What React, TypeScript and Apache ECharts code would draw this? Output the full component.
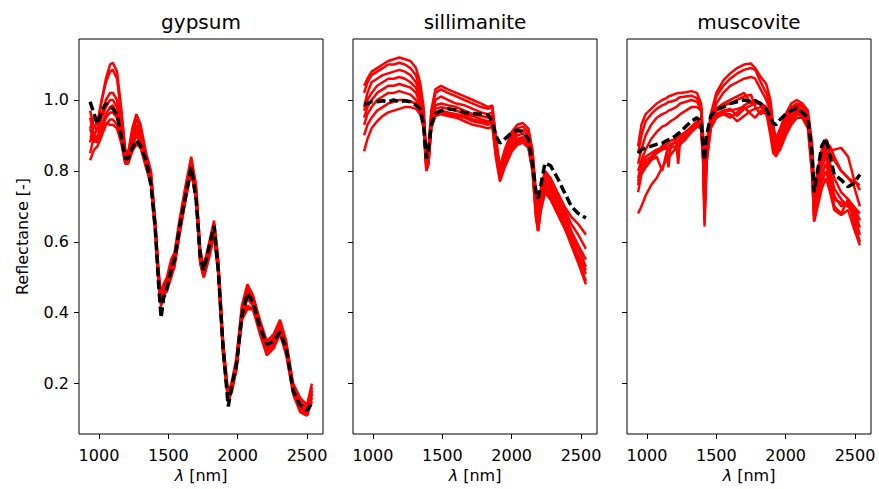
import React, { useEffect, useRef } from "react";
import * as echarts from "echarts";

// ---------- shared axis values ----------
const xTicks = [1000, 1500, 2000, 2500];
const yTicks = [0.2, 0.4, 0.6, 0.8, 1.0];
const xRange = [856, 2615];
const yRange = [0.058, 1.172];
const panelTitles = ["gypsum", "sillimanite", "muscovite"];

// ---------- gypsum ----------
const wlGypsum = [936, 965, 990, 1020, 1050, 1080, 1100, 1130, 1160, 1190,
  1210, 1240, 1270, 1300, 1340, 1375, 1405, 1430, 1448, 1465,
  1490, 1520, 1545, 1580, 1620, 1665, 1700, 1730, 1755, 1790,
  1830, 1860, 1895, 1932, 1960, 1990, 2030, 2070, 2110, 2160,
  2210, 2260, 2305, 2350, 2400, 2450, 2500, 2535];
const gypsumRef = [0.995, 0.96, 0.932, 0.97, 0.99, 0.98, 0.975, 0.96, 0.90, 0.835,
  0.835, 0.865, 0.887, 0.87, 0.83, 0.76, 0.64, 0.48, 0.386, 0.44,
  0.47, 0.52, 0.55, 0.64, 0.72, 0.81, 0.72, 0.56, 0.52, 0.58,
  0.645, 0.52, 0.30, 0.136, 0.20, 0.25, 0.39, 0.455, 0.43, 0.36,
  0.31, 0.32, 0.345, 0.30, 0.18, 0.14, 0.125, 0.145];
const gypsum1 = [0.92, 0.95, 0.93, 1.00, 1.06, 1.10, 1.105, 1.08, 0.98, 0.86,
  0.85, 0.92, 0.96, 0.93, 0.85, 0.80, 0.66, 0.52, 0.45, 0.48,
  0.50, 0.55, 0.57, 0.66, 0.75, 0.84, 0.76, 0.58, 0.53, 0.59,
  0.66, 0.55, 0.32, 0.17, 0.21, 0.27, 0.42, 0.48, 0.45, 0.38,
  0.32, 0.34, 0.38, 0.32, 0.20, 0.16, 0.14, 0.20];
const gypsum2 = [0.97, 0.92, 0.94, 1.0, 1.05, 1.08, 1.085, 1.06, 0.96, 0.85,
  0.845, 0.91, 0.945, 0.92, 0.84, 0.79, 0.66, 0.50, 0.44, 0.47,
  0.49, 0.53, 0.56, 0.65, 0.74, 0.83, 0.75, 0.57, 0.52, 0.58,
  0.65, 0.54, 0.31, 0.16, 0.20, 0.26, 0.41, 0.47, 0.44, 0.37,
  0.31, 0.33, 0.37, 0.31, 0.19, 0.15, 0.13, 0.18];
const gypsum3 = [0.88, 0.93, 0.91, 0.96, 1.0, 1.02, 1.02, 1.0, 0.93, 0.84,
  0.84, 0.89, 0.93, 0.91, 0.83, 0.78, 0.65, 0.50, 0.43, 0.46,
  0.48, 0.52, 0.55, 0.64, 0.73, 0.82, 0.74, 0.56, 0.51, 0.57,
  0.64, 0.53, 0.30, 0.16, 0.20, 0.25, 0.40, 0.46, 0.44, 0.36,
  0.30, 0.33, 0.36, 0.30, 0.19, 0.14, 0.12, 0.16];
const gypsum4 = [0.95, 0.90, 0.92, 0.95, 0.98, 1.0, 1.0, 0.98, 0.92, 0.84,
  0.835, 0.88, 0.92, 0.90, 0.83, 0.78, 0.65, 0.49, 0.42, 0.46,
  0.48, 0.52, 0.55, 0.63, 0.72, 0.82, 0.73, 0.55, 0.50, 0.56,
  0.63, 0.52, 0.30, 0.15, 0.19, 0.25, 0.40, 0.46, 0.43, 0.36,
  0.30, 0.32, 0.35, 0.30, 0.18, 0.14, 0.12, 0.17];
const gypsum5 = [0.85, 0.90, 0.89, 0.93, 0.96, 0.98, 0.985, 0.96, 0.91, 0.83,
  0.83, 0.87, 0.91, 0.89, 0.82, 0.77, 0.64, 0.49, 0.43, 0.45,
  0.47, 0.51, 0.54, 0.63, 0.72, 0.81, 0.73, 0.55, 0.51, 0.56,
  0.63, 0.52, 0.29, 0.15, 0.19, 0.24, 0.39, 0.45, 0.43, 0.35,
  0.29, 0.31, 0.35, 0.29, 0.18, 0.13, 0.11, 0.15];
const gypsum6 = [0.92, 0.88, 0.90, 0.92, 0.95, 0.965, 0.965, 0.95, 0.90, 0.83,
  0.83, 0.87, 0.90, 0.88, 0.82, 0.77, 0.64, 0.50, 0.44, 0.47,
  0.47, 0.50, 0.54, 0.62, 0.71, 0.80, 0.72, 0.54, 0.50, 0.55,
  0.62, 0.51, 0.29, 0.16, 0.19, 0.24, 0.38, 0.42, 0.41, 0.35,
  0.29, 0.31, 0.34, 0.29, 0.18, 0.13, 0.12, 0.17];
const gypsum7 = [0.83, 0.86, 0.87, 0.90, 0.93, 0.945, 0.945, 0.93, 0.89, 0.82,
  0.825, 0.86, 0.88, 0.87, 0.81, 0.76, 0.63, 0.48, 0.42, 0.45,
  0.46, 0.50, 0.53, 0.62, 0.71, 0.80, 0.72, 0.54, 0.50, 0.55,
  0.62, 0.51, 0.28, 0.15, 0.18, 0.24, 0.38, 0.41, 0.41, 0.34,
  0.28, 0.30, 0.34, 0.28, 0.17, 0.12, 0.11, 0.19];
const gypsum8 = [0.90, 0.89, 0.88, 0.91, 0.935, 0.93, 0.93, 0.92, 0.88, 0.82,
  0.82, 0.855, 0.875, 0.865, 0.81, 0.77, 0.64, 0.49, 0.43, 0.46,
  0.47, 0.51, 0.54, 0.63, 0.72, 0.81, 0.73, 0.55, 0.51, 0.56,
  0.63, 0.52, 0.29, 0.16, 0.19, 0.25, 0.39, 0.44, 0.42, 0.35,
  0.29, 0.31, 0.35, 0.29, 0.18, 0.13, 0.12, 0.18];

// ---------- sillimanite ----------
const wlSillimanite = [936, 960, 990, 1030, 1070, 1110, 1150, 1190, 1230, 1270,
  1310, 1340, 1365, 1385, 1400, 1420, 1450, 1490, 1540, 1600,
  1660, 1720, 1780, 1830, 1860, 1885, 1915, 1950, 2000, 2040,
  2080, 2120, 2150, 2175, 2190, 2210, 2240, 2280, 2330, 2380,
  2430, 2480, 2535];
const sillimaniteRef = [0.988, 0.99, 0.995, 0.995, 0.998, 0.995, 1.0, 0.995, 0.998, 0.995,
  0.985, 0.975, 0.93, 0.835, 0.86, 0.93, 0.962, 0.97, 0.975, 0.972,
  0.965, 0.962, 0.96, 0.958, 0.94, 0.90, 0.878, 0.89, 0.908, 0.915,
  0.91, 0.89, 0.82, 0.74, 0.722, 0.76, 0.822, 0.815, 0.78, 0.74,
  0.70, 0.68, 0.667];
const sillimanite1 = [1.04, 1.06, 1.08, 1.09, 1.10, 1.11, 1.115, 1.12, 1.115, 1.11,
  1.09, 1.05, 0.98, 0.84, 0.86, 0.97, 1.03, 1.04, 1.03, 1.02,
  1.01, 1.0, 0.99, 0.98, 0.985, 0.90, 0.81, 0.86, 0.91, 0.93,
  0.935, 0.92, 0.86, 0.74, 0.70, 0.75, 0.80, 0.78, 0.74, 0.70,
  0.67, 0.65, 0.62];
const sillimanite2 = [1.02, 1.05, 1.07, 1.08, 1.09, 1.10, 1.10, 1.105, 1.10, 1.09,
  1.07, 1.03, 0.97, 0.83, 0.85, 0.96, 1.02, 1.03, 1.02, 1.01,
  1.0, 0.99, 0.98, 0.975, 0.98, 0.89, 0.80, 0.85, 0.90, 0.92,
  0.925, 0.91, 0.85, 0.72, 0.68, 0.74, 0.79, 0.77, 0.73, 0.69,
  0.65, 0.62, 0.58];
const sillimanite3 = [0.98, 1.02, 1.05, 1.06, 1.07, 1.075, 1.08, 1.085, 1.08, 1.07,
  1.05, 1.02, 0.96, 0.82, 0.84, 0.95, 1.0, 1.01, 1.0, 0.99,
  0.985, 0.975, 0.965, 0.96, 0.965, 0.88, 0.80, 0.84, 0.89, 0.91,
  0.915, 0.90, 0.84, 0.71, 0.67, 0.73, 0.78, 0.76, 0.72, 0.68,
  0.63, 0.59, 0.55];
const sillimanite4 = [0.97, 1.0, 1.02, 1.04, 1.05, 1.06, 1.06, 1.065, 1.06, 1.05,
  1.035, 1.0, 0.95, 0.82, 0.83, 0.94, 0.985, 0.99, 0.985, 0.98,
  0.97, 0.96, 0.955, 0.95, 0.955, 0.87, 0.79, 0.83, 0.88, 0.90,
  0.905, 0.89, 0.83, 0.70, 0.66, 0.72, 0.77, 0.75, 0.71, 0.67,
  0.62, 0.58, 0.53];
const sillimanite5 = [0.95, 0.98, 1.0, 1.02, 1.03, 1.04, 1.04, 1.045, 1.04, 1.035,
  1.02, 0.99, 0.94, 0.81, 0.83, 0.93, 0.975, 0.98, 0.975, 0.97,
  0.96, 0.955, 0.945, 0.94, 0.945, 0.86, 0.79, 0.82, 0.87, 0.89,
  0.895, 0.88, 0.82, 0.69, 0.65, 0.71, 0.76, 0.74, 0.70, 0.66,
  0.61, 0.56, 0.51];
const sillimanite6 = [0.93, 0.96, 0.98, 1.0, 1.01, 1.02, 1.02, 1.025, 1.02, 1.015,
  1.0, 0.98, 0.93, 0.80, 0.82, 0.92, 0.965, 0.97, 0.965, 0.96,
  0.955, 0.945, 0.94, 0.935, 0.94, 0.85, 0.78, 0.82, 0.865, 0.885,
  0.89, 0.875, 0.81, 0.68, 0.64, 0.70, 0.75, 0.73, 0.69, 0.65,
  0.60, 0.55, 0.49];
const sillimanite7 = [0.90, 0.93, 0.95, 0.97, 0.98, 0.99, 0.995, 1.0, 1.0, 0.995,
  0.99, 0.97, 0.93, 0.81, 0.83, 0.925, 0.96, 0.965, 0.96, 0.955,
  0.95, 0.94, 0.935, 0.93, 0.935, 0.85, 0.78, 0.815, 0.86, 0.88,
  0.885, 0.87, 0.80, 0.67, 0.63, 0.69, 0.74, 0.72, 0.68, 0.64,
  0.59, 0.54, 0.48];
const sillimanite8 = [0.855, 0.89, 0.92, 0.94, 0.955, 0.965, 0.97, 0.975, 0.98, 0.98,
  0.975, 0.96, 0.92, 0.80, 0.82, 0.92, 0.955, 0.96, 0.955, 0.95,
  0.94, 0.93, 0.925, 0.92, 0.925, 0.84, 0.77, 0.81, 0.855, 0.873,
  0.88, 0.865, 0.80, 0.67, 0.63, 0.69, 0.74, 0.72, 0.68, 0.64,
  0.60, 0.56, 0.52];

// ---------- muscovite ----------
const wlMuscovite = [936, 960, 990, 1030, 1070, 1110, 1140, 1155, 1170, 1210,
  1225, 1240, 1280, 1320, 1360, 1390, 1405, 1415, 1430, 1460,
  1500, 1550, 1600, 1650, 1700, 1750, 1780, 1820, 1860, 1890,
  1910, 1930, 1960, 2000, 2040, 2080, 2120, 2160, 2190, 2205,
  2230, 2260, 2290, 2320, 2350, 2400, 2450, 2490, 2535];
const muscoviteRef = [0.85, 0.86, 0.865, 0.87, 0.875, 0.878, 0.885, 0.888, 0.89, 0.90,
  0.905, 0.91, 0.925, 0.94, 0.95, 0.94, 0.87, 0.83, 0.90, 0.955,
  0.972, 0.98, 0.99, 0.995, 1.0, 0.995, 0.998, 0.99, 0.975, 0.95,
  0.935, 0.93, 0.945, 0.96, 0.97, 0.977, 0.965, 0.95, 0.85, 0.74,
  0.80, 0.87, 0.892, 0.84, 0.79, 0.775, 0.755, 0.765, 0.79];
const muscovite1 = [0.87, 0.93, 0.96, 0.975, 0.99, 1.0, 1.005, 1.01, 1.012, 1.018,
  1.02, 1.02, 1.022, 1.025, 1.02, 0.99, 0.90, 0.80, 0.88, 0.96,
  1.02, 1.055, 1.075, 1.09, 1.10, 1.103, 1.09, 1.065, 1.045, 1.0,
  0.93, 0.89, 0.92, 0.96, 0.99, 1.0, 0.99, 0.97, 0.88, 0.75,
  0.80, 0.86, 0.88, 0.87, 0.84, 0.80, 0.78, 0.77, 0.76];
const muscovite2 = [0.85, 0.90, 0.94, 0.96, 0.975, 0.985, 0.99, 0.995, 0.995, 1.0,
  1.005, 1.008, 1.01, 1.012, 1.005, 0.98, 0.88, 0.78, 0.87, 0.95,
  1.01, 1.04, 1.06, 1.075, 1.085, 1.09, 1.085, 1.05, 1.02, 0.98,
  0.92, 0.88, 0.91, 0.95, 0.98, 0.99, 0.985, 0.96, 0.86, 0.72,
  0.78, 0.84, 0.87, 0.85, 0.83, 0.80, 0.78, 0.76, 0.70];
const muscovite3 = [0.82, 0.86, 0.90, 0.93, 0.95, 0.96, 0.965, 0.97, 0.972, 0.98,
  0.985, 0.99, 0.995, 1.0, 0.995, 0.975, 0.86, 0.72, 0.86, 0.94,
  0.99, 1.02, 1.04, 1.05, 1.06, 1.065, 1.06, 1.03, 1.0, 0.97,
  0.91, 0.87, 0.90, 0.94, 0.97, 0.985, 0.98, 0.955, 0.84, 0.70,
  0.76, 0.83, 0.86, 0.82, 0.78, 0.74, 0.72, 0.70, 0.66];
const muscovite4 = [0.80, 0.83, 0.86, 0.89, 0.91, 0.925, 0.93, 0.935, 0.94, 0.95,
  0.955, 0.96, 0.97, 0.98, 0.98, 0.97, 0.85, 0.70, 0.85, 0.935,
  0.97, 0.985, 0.99, 1.0, 1.01, 1.015, 0.98, 0.96, 0.97, 0.96,
  0.90, 0.86, 0.89, 0.93, 0.96, 0.975, 0.97, 0.95, 0.83, 0.69,
  0.74, 0.81, 0.84, 0.80, 0.75, 0.72, 0.70, 0.68, 0.62];
const muscovite5 = [0.78, 0.82, 0.84, 0.85, 0.86, 0.865, 0.87, 0.81, 0.87, 0.885,
  0.82, 0.89, 0.91, 0.925, 0.94, 0.935, 0.84, 0.68, 0.84, 0.93,
  0.96, 0.97, 0.975, 0.955, 0.975, 0.985, 0.99, 0.99, 0.975, 0.93,
  0.87, 0.85, 0.88, 0.92, 0.95, 0.965, 0.96, 0.94, 0.82, 0.67,
  0.72, 0.79, 0.82, 0.78, 0.73, 0.70, 0.71, 0.69, 0.64];
const muscovite6 = [0.76, 0.80, 0.82, 0.835, 0.85, 0.86, 0.865, 0.87, 0.875, 0.88,
  0.885, 0.89, 0.90, 0.915, 0.93, 0.93, 0.83, 0.66, 0.83, 0.925,
  0.95, 0.965, 0.97, 0.975, 0.98, 0.96, 0.95, 0.97, 0.96, 0.92,
  0.86, 0.84, 0.87, 0.91, 0.94, 0.96, 0.955, 0.93, 0.80, 0.66,
  0.71, 0.77, 0.80, 0.76, 0.70, 0.68, 0.72, 0.66, 0.60];
const muscovite7 = [0.68, 0.70, 0.73, 0.76, 0.78, 0.81, 0.83, 0.84, 0.845, 0.865,
  0.87, 0.875, 0.89, 0.91, 0.925, 0.925, 0.82, 0.643, 0.82, 0.92,
  0.95, 0.96, 0.96, 0.94, 0.955, 0.97, 0.975, 0.98, 0.965, 0.90,
  0.85, 0.845, 0.86, 0.90, 0.93, 0.95, 0.95, 0.92, 0.79, 0.657,
  0.70, 0.75, 0.78, 0.74, 0.69, 0.676, 0.69, 0.64, 0.59];
const muscovite8 = [0.74, 0.79, 0.81, 0.83, 0.84, 0.80, 0.85, 0.86, 0.865, 0.87,
  0.875, 0.88, 0.895, 0.91, 0.925, 0.92, 0.84, 0.70, 0.84, 0.925,
  0.955, 0.96, 0.95, 0.965, 0.985, 0.995, 1.0, 0.985, 0.97, 0.93,
  0.88, 0.86, 0.89, 0.93, 0.96, 0.97, 0.965, 0.945, 0.84, 0.72,
  0.77, 0.83, 0.85, 0.77, 0.72, 0.71, 0.70, 0.70, 0.68];
const muscovite9 = [0.77, 0.81, 0.83, 0.84, 0.855, 0.87, 0.875, 0.88, 0.885, 0.89,
  0.895, 0.90, 0.91, 0.92, 0.935, 0.93, 0.86, 0.76, 0.86, 0.94,
  0.975, 0.99, 1.0, 1.01, 1.02, 0.99, 1.0, 0.99, 0.98, 0.95,
  0.89, 0.87, 0.90, 0.94, 0.965, 0.98, 0.97, 0.955, 0.85, 0.74,
  0.78, 0.85, 0.89, 0.86, 0.86, 0.865, 0.84, 0.78, 0.746];

const panels = [
  { wl: wlGypsum, red: [gypsum1, gypsum2, gypsum3, gypsum4, gypsum5, gypsum6, gypsum7, gypsum8], ref: gypsumRef },
  { wl: wlSillimanite, red: [sillimanite1, sillimanite2, sillimanite3, sillimanite4, sillimanite5, sillimanite6, sillimanite7, sillimanite8], ref: sillimaniteRef },
  { wl: wlMuscovite, red: [muscovite1, muscovite2, muscovite3, muscovite4, muscovite5, muscovite6, muscovite7, muscovite8, muscovite9], ref: muscoviteRef },
];

const FONT = "DejaVu Sans";
const GRID_LEFTS = [79, 353, 627];
const GRID_TOP = 39;
const GRID_W = 244;
const GRID_H = 395;

export default function App() {
  const ref = useRef<HTMLDivElement>(null);
  useEffect(() => {
    if (!ref.current) return;
    const chart = echarts.init(ref.current, undefined, { renderer: "svg" });
    const grid = GRID_LEFTS.map((l) => ({
      left: l, top: GRID_TOP, width: GRID_W, height: GRID_H,
      show: true, borderColor: "#000", borderWidth: 1, backgroundColor: "transparent",
    }));
    const xAxis = GRID_LEFTS.map((_, i) => ({
      type: "value", gridIndex: i, min: xRange[0], max: xRange[1],
      splitLine: { show: false },
      axisLine: { show: false },
      axisTick: { show: true, length: 5, lineStyle: { color: "#000", width: 1 }, customValues: xTicks },
      axisLabel: {
        show: true, customValues: xTicks, color: "#000", fontSize: 16, fontFamily: FONT, margin: 13,
        formatter: (v: number) => String(v),
      },
      name: "{i|λ} [nm]",
      nameLocation: "middle",
      nameGap: 33,
      nameTextStyle: {
        color: "#000", fontSize: 16, fontFamily: FONT,
        rich: { i: { fontStyle: "italic", fontSize: 16, fontFamily: FONT, color: "#000" } },
      },
    }));
    const yAxis = GRID_LEFTS.map((_, i) => ({
      type: "value", gridIndex: i, min: yRange[0], max: yRange[1],
      splitLine: { show: false },
      axisLine: { show: false },
      axisTick: { show: true, length: 5, lineStyle: { color: "#000", width: 1 }, customValues: yTicks },
      axisLabel: {
        show: i === 0, customValues: yTicks, color: "#000", fontSize: 16, fontFamily: FONT, margin: 10,
        formatter: (v: number) => v.toFixed(1),
      },
      name: i === 0 ? "Reflectance [-]" : "",
      nameLocation: "middle",
      nameGap: 49,
      nameRotate: 90,
      nameTextStyle: { color: "#000", fontSize: 16, fontFamily: FONT },
    }));
    const series: any[] = [];
    panels.forEach((p, i) => {
      p.red.forEach((vals) => {
        series.push({
          type: "line", xAxisIndex: i, yAxisIndex: i, symbol: "none", silent: true,
          lineStyle: { color: "#ff0000", width: 2.5 },
          data: p.wl.map((w, k) => [w, vals[k]]),
          z: 2,
        });
      });
      series.push({
        type: "line", xAxisIndex: i, yAxisIndex: i, symbol: "none", silent: true,
        lineStyle: { color: "#000", width: 3.5, type: [9, 4] },
        data: p.wl.map((w, k) => [w, p.ref[k]]),
        z: 3,
      });
    });
    const graphic = panelTitles.map((t, i) => ({
      type: "text", x: GRID_LEFTS[i] + GRID_W / 2, y: 22,
      style: { text: t, fontSize: 20, fontFamily: FONT, fill: "#000", textAlign: "center", textVerticalAlign: "middle" },
    }));
    chart.setOption({
      animation: false,
      backgroundColor: "#fff",
      grid, xAxis, yAxis, series, graphic,
    });
    return () => chart.dispose();
  }, []);
  return <div ref={ref} style={{ position: "fixed", left: 0, top: 0, width: 879, height: 489 }} />;
}
